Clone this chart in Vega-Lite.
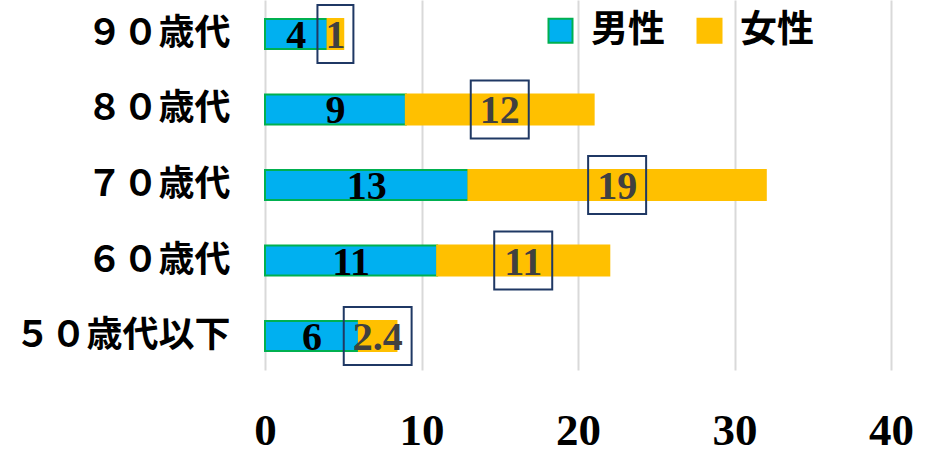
{
  "$schema": "https://vega.github.io/schema/vega-lite/v6.json",
  "width": 626,
  "height": 370,
  "autosize": "none",
  "padding": {"left": 265, "top": 0, "right": 43, "bottom": 85},
  "background": "white",
  "config": {"view": {"stroke": null}},
  "data": {
    "values": [
      {"age": "９０歳代", "sex": "男性", "value": 4},
      {"age": "９０歳代", "sex": "女性", "value": 1},
      {"age": "８０歳代", "sex": "男性", "value": 9},
      {"age": "８０歳代", "sex": "女性", "value": 12},
      {"age": "７０歳代", "sex": "男性", "value": 13},
      {"age": "７０歳代", "sex": "女性", "value": 19},
      {"age": "６０歳代", "sex": "男性", "value": 11},
      {"age": "６０歳代", "sex": "女性", "value": 11},
      {"age": "５０歳代以下", "sex": "男性", "value": 6},
      {"age": "５０歳代以下", "sex": "女性", "value": 2.4}
    ]
  },
  "transform": [
    {"stack": "value", "groupby": ["age"], "sort": [{"field": "sex", "order": "descending"}], "as": ["x0", "x1"]},
    {"calculate": "(datum.x0 + datum.x1) / 2", "as": "mid"},
    {"calculate": "length(format(datum.value, '~g'))", "as": "len"}
  ],
  "encoding": {
    "y": {
      "field": "age",
      "type": "nominal",
      "sort": ["９０歳代", "８０歳代", "７０歳代", "６０歳代", "５０歳代以下"],
      "scale": {"paddingInner": 0.6, "paddingOuter": 0.25},
      "axis": {
        "title": null,
        "domain": false,
        "ticks": false,
        "labelPadding": 35,
        "labelLimit": 0,
        "labelFont": "Noto Sans CJK JP",
        "labelFontWeight": "bold",
        "labelFontSize": 36,
        "labelColor": "black"
      }
    }
  },
  "layer": [
    {
      "mark": {"type": "bar", "strokeWidth": 2},
      "encoding": {
        "x": {
          "field": "x0",
          "type": "quantitative",
          "scale": {"domain": [0, 40], "nice": false},
          "axis": {
            "title": null,
            "values": [0, 10, 20, 30, 40],
            "grid": true,
            "gridColor": "#D9D9D9",
            "gridWidth": 2,
            "domain": false,
            "ticks": false,
            "labelPadding": 38,
            "labelFont": "Liberation Serif",
            "labelFontWeight": "bold",
            "labelFontSize": 45,
            "labelColor": "black",
            "labelFlush": false
          }
        },
        "x2": {"field": "x1"},
        "color": {
          "field": "sex",
          "type": "nominal",
          "scale": {"domain": ["男性", "女性"], "range": ["#00B0F0", "#FFC000"]},
          "legend": {
            "title": null,
            "orient": "none",
            "legendX": 277,
            "legendY": 12,
            "direction": "horizontal",
            "symbolType": "square",
            "symbolSize": 576,
            "symbolStrokeWidth": 2,
            "labelFont": "Noto Sans CJK JP",
            "labelFontWeight": "bold",
            "labelFontSize": 37,
            "labelColor": "black",
            "labelOffset": 12,
            "columnPadding": 26
          }
        },
        "stroke": {
          "field": "sex",
          "type": "nominal",
          "scale": {"domain": ["男性", "女性"], "range": ["#00B050", "#FFC000"]}
        }
      }
    },
    {
      "mark": {
        "type": "text",
        "font": "Liberation Serif",
        "fontWeight": "bold",
        "fontSize": 40,
        "baseline": "middle",
        "align": "center",
        "dy": 2
      },
      "encoding": {
        "x": {"field": "mid", "type": "quantitative"},
        "text": {"field": "value", "type": "quantitative", "format": "~g"},
        "color": {
          "condition": {"test": "datum.sex === '男性'", "value": "black"},
          "value": "#404040"
        }
      }
    },
    {
      "transform": [{"filter": "datum.sex === '女性'"}],
      "mark": {"type": "point", "filled": false, "size": 3364, "strokeWidth": 2, "stroke": "#1F3864", "opacity": 1},
      "encoding": {
        "x": {"field": "mid", "type": "quantitative"},
        "shape": {
          "field": "len",
          "type": "ordinal",
          "scale": {
            "domain": [1, 2, 3],
            "range": ["M-0.62,-1H0.62V1H-0.62Z", "M-1,-1H1V1H-1Z", "M-1.17,-1H1.17V1H-1.17Z"]
          },
          "legend": null
        }
      }
    }
  ]
}
